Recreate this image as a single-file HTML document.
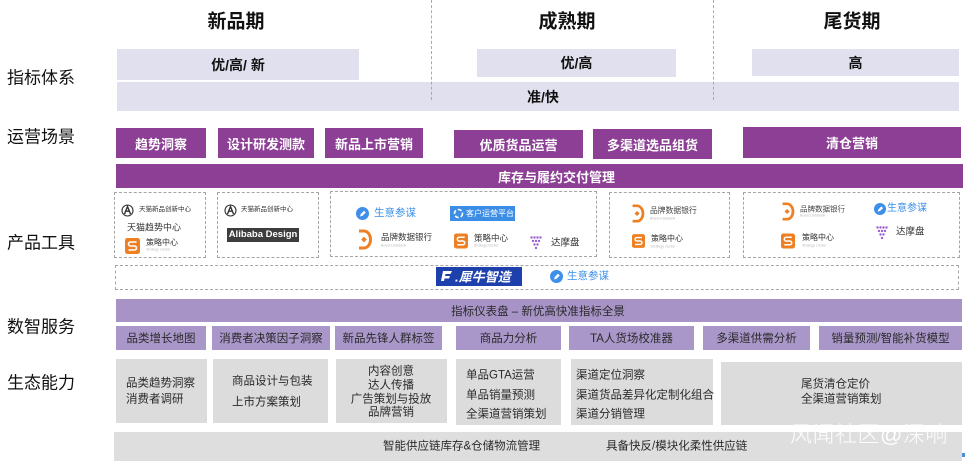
<!DOCTYPE html>
<html>
<head>
<meta charset="utf-8">
<style>
*{margin:0;padding:0;box-sizing:border-box;}
html,body{width:966px;height:462px;background:#fff;overflow:hidden;}
body{position:relative;font-family:"Liberation Sans","Noto Sans CJK SC",sans-serif;color:#222;}
.a{position:absolute;}
.t{position:absolute;white-space:nowrap;transform:translateY(-50%);line-height:1;}
.hd{font-size:19px;font-weight:bold;color:#111;transform:translate(-50%,-50%);}
.lb{font-size:17px;color:#111;left:7px;}
.lav{position:absolute;background:#e1e0ee;display:flex;align-items:center;justify-content:center;font-weight:bold;font-size:14px;color:#111;}
.pp{position:absolute;background:#8c3f95;display:flex;align-items:center;justify-content:center;font-weight:bold;font-size:13px;color:#fff;}
.db{position:absolute;border:1.5px dashed #a5a5a5;}
.sv{position:absolute;background:#aa97ca;display:flex;align-items:center;justify-content:center;font-size:11.5px;color:#2a2a2a;}
.gy{position:absolute;background:#dcdcdc;font-size:11.5px;color:#2a2a2a;}
.vd{position:absolute;top:0;width:0;height:100px;border-left:1.2px dashed #aaa;}
.sub{font-size:3.5px;color:#bbb;}
.blue{color:#3d8fea;}
</style>
</head>
<body>

<!-- headers -->
<div class="t hd" style="left:236px;top:22px;">新品期</div>
<div class="t hd" style="left:567px;top:22px;">成熟期</div>
<div class="t hd" style="left:852px;top:22px;">尾货期</div>

<!-- left labels -->
<div class="t lb" style="top:78px;">指标体系</div>
<div class="t lb" style="top:137px;">运营场景</div>
<div class="t lb" style="top:243px;">产品工具</div>
<div class="t lb" style="top:327px;">数智服务</div>
<div class="t lb" style="top:383px;">生态能力</div>

<!-- indicator row -->
<div class="lav" style="left:117px;top:49px;width:242px;height:31px;">优/高/ 新</div>
<div class="lav" style="left:477px;top:49px;width:199px;height:28px;">优/高</div>
<div class="lav" style="left:752px;top:49px;width:207px;height:27px;">高</div>
<div class="lav" style="left:117px;top:82px;width:842px;height:29px;justify-content:flex-start;padding-left:410px;">准/快</div>

<div class="vd" style="left:431px;"></div>
<div class="vd" style="left:713px;"></div>

<!-- operations -->
<div class="pp" style="left:116px;top:128px;width:90px;height:30px;">趋势洞察</div>
<div class="pp" style="left:218px;top:128px;width:96px;height:30px;">设计研发测款</div>
<div class="pp" style="left:325px;top:128px;width:98px;height:30px;">新品上市营销</div>
<div class="pp" style="left:454px;top:130px;width:129px;height:28px;">优质货品运营</div>
<div class="pp" style="left:593px;top:129px;width:119px;height:30px;">多渠道选品组货</div>
<div class="pp" style="left:743px;top:127px;width:218px;height:31px;">清仓营销</div>
<div class="pp" style="left:116px;top:164px;width:847px;height:24px;justify-content:flex-start;padding-left:382px;">库存与履约交付管理</div>

<!-- tools dashed boxes -->
<div class="db" style="left:114px;top:192px;width:92px;height:66px;"></div>
<div class="db" style="left:217px;top:192px;width:102px;height:66px;"></div>
<div class="db" style="left:330px;top:191px;width:267px;height:66px;"></div>
<div class="db" style="left:609px;top:192px;width:121px;height:66px;"></div>
<div class="db" style="left:743px;top:192px;width:217px;height:66px;"></div>
<div class="db" style="left:115px;top:265px;width:844px;height:25px;"></div>

<!-- T1 -->
<svg class="a" style="left:121px;top:204px;" width="13" height="13" viewBox="0 0 13 13"><circle cx="6.5" cy="6.5" r="5.5" fill="none" stroke="#333" stroke-width="1.1"/><path d="M3.5 10L6.5 2.5 9.5 10M4.8 7.2h3.4" stroke="#333" stroke-width="1.4" fill="none"/></svg>
<div class="t" style="left:139px;top:210px;font-size:6.5px;color:#333;">天猫新品创新中心</div>
<div class="t" style="left:127px;top:228px;font-size:9px;color:#333;">天猫趋势中心</div>
<svg class="a" style="left:125px;top:238px;" width="15" height="16" viewBox="0 0 15 16"><rect width="15" height="16" rx="2.5" fill="#ee7f22"/><path d="M11.5 4H5.5a2 2 0 0 0 0 4h4a2 2 0 0 1 0 4H3.5" stroke="#fff" stroke-width="1.6" fill="none"/></svg>
<div class="t" style="left:146px;top:243px;font-size:8px;color:#333;">策略中心</div>
<div class="t sub" style="left:146px;top:250px;">Strategy Center</div>

<!-- T2 -->
<svg class="a" style="left:224px;top:204px;" width="13" height="13" viewBox="0 0 13 13"><circle cx="6.5" cy="6.5" r="5.5" fill="none" stroke="#333" stroke-width="1.1"/><path d="M3.5 10L6.5 2.5 9.5 10M4.8 7.2h3.4" stroke="#333" stroke-width="1.4" fill="none"/></svg>
<div class="t" style="left:241px;top:210px;font-size:6.5px;color:#333;">天猫新品创新中心</div>
<div class="a" style="left:227px;top:228px;width:72px;height:14px;background:#3d3d3d;color:#fff;font-size:9.5px;font-weight:bold;text-align:center;line-height:14px;white-space:nowrap;overflow:hidden;">Alibaba Design</div>

<!-- T3 -->
<svg class="a" style="left:356px;top:207px;" width="13" height="13" viewBox="0 0 13 13"><circle cx="6.5" cy="6.5" r="6.5" fill="#3d8fea"/><path d="M4 9.5l.8-2.6 3.2-3.2 1.8 1.8-3.2 3.2z" fill="#fff"/></svg>
<div class="t blue" style="left:374px;top:213px;font-size:10.5px;">生意参谋</div>
<div class="a" style="left:450px;top:206px;width:65px;height:15px;background:#3b8de6;"></div>
<svg class="a" style="left:453px;top:208px;" width="11" height="11" viewBox="0 0 11 11"><circle cx="5.5" cy="5.5" r="4" fill="none" stroke="#fff" stroke-width="1.6" stroke-dasharray="4 2"/></svg>
<div class="t" style="left:466px;top:213.5px;font-size:8px;color:#fff;">客户运营平台</div>
<svg class="a" style="left:358px;top:229px;" width="14" height="21" viewBox="0 0 14 21"><path d="M1 2h5a6.5 8.5 0 0 1 0 17H1" fill="none" stroke="#ee7f22" stroke-width="3"/><rect x="4" y="8.5" width="4" height="4" transform="rotate(45 6 10.5)" fill="#ee7f22"/></svg>
<div class="t" style="left:381px;top:237px;font-size:8.5px;color:#333;">品牌数据银行</div>
<div class="t sub" style="left:381px;top:246px;">Brand Databank</div>
<svg class="a" style="left:454px;top:232px;" width="14" height="18" viewBox="0 0 15 16"><rect width="15" height="16" rx="2.5" fill="#ee7f22"/><path d="M11.5 4H5.5a2 2 0 0 0 0 4h4a2 2 0 0 1 0 4H3.5" stroke="#fff" stroke-width="1.6" fill="none"/></svg>
<div class="t" style="left:474px;top:238px;font-size:8.5px;color:#333;">策略中心</div>
<div class="t sub" style="left:474px;top:246px;">Strategy Center</div>
<svg class="a" style="left:530px;top:236px;" width="13" height="14" viewBox="0 0 13 14"><g fill="#9a5fd6"><circle cx="1.5" cy="1.5" r="1.2"/><circle cx="4.5" cy="1.5" r="1.2"/><circle cx="7.5" cy="1.5" r="1.2"/><circle cx="10.5" cy="1.5" r="1.2"/><circle cx="3" cy="5" r="1.2"/><circle cx="6" cy="5" r="1.2"/><circle cx="9" cy="5" r="1.2"/><circle cx="4.5" cy="8.5" r="1.2"/><circle cx="7.5" cy="8.5" r="1.2"/><circle cx="6" cy="12" r="1.2"/></g></svg>
<div class="t" style="left:551px;top:243px;font-size:9.5px;color:#333;">达摩盘</div>

<!-- T4 -->
<svg class="a" style="left:631px;top:204px;" width="14" height="19" viewBox="0 0 14 21"><path d="M1 2h5a6.5 8.5 0 0 1 0 17H1" fill="none" stroke="#ee7f22" stroke-width="3"/><rect x="4" y="8.5" width="4" height="4" transform="rotate(45 6 10.5)" fill="#ee7f22"/></svg>
<div class="t" style="left:650px;top:211px;font-size:7.8px;color:#444;">品牌数据银行</div>
<div class="t sub" style="left:650px;top:219px;">Brand Databank</div>
<svg class="a" style="left:632px;top:232px;" width="13" height="18" viewBox="0 0 15 16"><rect width="15" height="16" rx="2.5" fill="#ee7f22"/><path d="M11.5 4H5.5a2 2 0 0 0 0 4h4a2 2 0 0 1 0 4H3.5" stroke="#fff" stroke-width="1.6" fill="none"/></svg>
<div class="t" style="left:651px;top:239px;font-size:8px;color:#333;">策略中心</div>
<div class="t sub" style="left:651px;top:247px;">Strategy Center</div>

<!-- T5 -->
<svg class="a" style="left:781px;top:202px;" width="14" height="19" viewBox="0 0 14 21"><path d="M1 2h5a6.5 8.5 0 0 1 0 17H1" fill="none" stroke="#ee7f22" stroke-width="3"/><rect x="4" y="8.5" width="4" height="4" transform="rotate(45 6 10.5)" fill="#ee7f22"/></svg>
<div class="t" style="left:800px;top:209px;font-size:7.5px;color:#444;">品牌数据银行</div>
<div class="t sub" style="left:800px;top:216px;">Brand Databank</div>
<svg class="a" style="left:874px;top:203px;" width="12" height="12" viewBox="0 0 13 13"><circle cx="6.5" cy="6.5" r="6.5" fill="#3d8fea"/><path d="M4 9.5l.8-2.6 3.2-3.2 1.8 1.8-3.2 3.2z" fill="#fff"/></svg>
<div class="t blue" style="left:887px;top:209px;font-size:10px;">生意参谋</div>
<svg class="a" style="left:781px;top:232px;" width="14" height="18" viewBox="0 0 15 16"><rect width="15" height="16" rx="2.5" fill="#ee7f22"/><path d="M11.5 4H5.5a2 2 0 0 0 0 4h4a2 2 0 0 1 0 4H3.5" stroke="#fff" stroke-width="1.6" fill="none"/></svg>
<div class="t" style="left:802px;top:238px;font-size:8px;color:#333;">策略中心</div>
<div class="t sub" style="left:802px;top:246px;">Strategy Center</div>
<svg class="a" style="left:876px;top:226px;" width="13" height="14" viewBox="0 0 13 14"><g fill="#9a5fd6"><circle cx="1.5" cy="1.5" r="1.2"/><circle cx="4.5" cy="1.5" r="1.2"/><circle cx="7.5" cy="1.5" r="1.2"/><circle cx="10.5" cy="1.5" r="1.2"/><circle cx="3" cy="5" r="1.2"/><circle cx="6" cy="5" r="1.2"/><circle cx="9" cy="5" r="1.2"/><circle cx="4.5" cy="8.5" r="1.2"/><circle cx="7.5" cy="8.5" r="1.2"/><circle cx="6" cy="12" r="1.2"/></g></svg>
<div class="t" style="left:896px;top:232px;font-size:9.5px;color:#333;">达摩盘</div>

<!-- wide tools row -->
<div class="a" style="left:436px;top:267px;width:86px;height:19px;background:#1d40ad;"></div>
<svg class="a" style="left:440px;top:270px;" width="13" height="13" viewBox="0 0 13 13"><path d="M3 1h9l-1.5 3H5.5L5 6h5l-1 2.5H4.5L4 11H1z" fill="#fff"/></svg>
<div class="t" style="left:455px;top:276.5px;font-size:13px;font-weight:bold;font-style:italic;color:#fff;">.犀牛智造</div>
<svg class="a" style="left:550px;top:270px;" width="13" height="13" viewBox="0 0 13 13"><circle cx="6.5" cy="6.5" r="6.5" fill="#3d8fea"/><path d="M4 9.5l.8-2.6 3.2-3.2 1.8 1.8-3.2 3.2z" fill="#fff"/></svg>
<div class="t blue" style="left:567px;top:276px;font-size:10.5px;">生意参谋</div>

<!-- services -->
<div class="sv" style="left:116px;top:299px;width:846px;height:23px;background:#a893c7;padding-right:2px;">指标仪表盘 – 新优高快准指标全景</div>
<div class="sv" style="left:116px;top:326px;width:90px;height:24px;">品类增长地图</div>
<div class="sv" style="left:212px;top:326px;width:118px;height:24px;">消费者决策因子洞察</div>
<div class="sv" style="left:335px;top:326px;width:107px;height:24px;">新品先锋人群标签</div>
<div class="sv" style="left:456px;top:326px;width:105px;height:24px;">商品力分析</div>
<div class="sv" style="left:569px;top:326px;width:125px;height:24px;">TA人货场校准器</div>
<div class="sv" style="left:703px;top:326px;width:107px;height:24px;">多渠道供需分析</div>
<div class="sv" style="left:819px;top:326px;width:143px;height:24px;">销量预测/智能补货模型</div>

<!-- eco -->
<div class="gy" style="left:116px;top:359px;width:91px;height:64px;"></div>
<div class="t" style="left:126px;top:384px;font-size:11.5px;color:#2a2a2a;">品类趋势洞察</div>
<div class="t" style="left:126px;top:400px;font-size:11.5px;color:#2a2a2a;">消费者调研</div>

<div class="gy" style="left:213px;top:359px;width:115px;height:64px;"></div>
<div class="t" style="left:232px;top:382px;font-size:11.5px;color:#2a2a2a;">商品设计与包装</div>
<div class="t" style="left:232px;top:403px;font-size:11.5px;color:#2a2a2a;">上市方案策划</div>

<div class="gy" style="left:336px;top:359px;width:111px;height:64px;"></div>
<div class="t" style="left:391px;top:372px;font-size:11.5px;color:#2a2a2a;transform:translate(-50%,-50%);">内容创意</div>
<div class="t" style="left:391px;top:386px;font-size:11.5px;color:#2a2a2a;transform:translate(-50%,-50%);">达人传播</div>
<div class="t" style="left:391px;top:400px;font-size:11.5px;color:#2a2a2a;transform:translate(-50%,-50%);">广告策划与投放</div>
<div class="t" style="left:391px;top:413px;font-size:11.5px;color:#2a2a2a;transform:translate(-50%,-50%);">品牌营销</div>

<div class="gy" style="left:456px;top:359px;width:105px;height:66px;"></div>
<div class="t" style="left:466px;top:376px;font-size:11.5px;color:#2a2a2a;">单品GTA运营</div>
<div class="t" style="left:466px;top:396px;font-size:11.5px;color:#2a2a2a;">单品销量预测</div>
<div class="t" style="left:466px;top:415px;font-size:11.5px;color:#2a2a2a;">全渠道营销策划</div>

<div class="gy" style="left:571px;top:359px;width:142px;height:66px;"></div>
<div class="t" style="left:576px;top:376px;font-size:11.5px;color:#2a2a2a;">渠道定位洞察</div>
<div class="t" style="left:576px;top:396px;font-size:11.5px;color:#2a2a2a;">渠道货品差异化定制化组合</div>
<div class="t" style="left:576px;top:415px;font-size:11.5px;color:#2a2a2a;">渠道分销管理</div>

<div class="gy" style="left:721px;top:362px;width:241px;height:63px;"></div>
<div class="t" style="left:801px;top:385px;font-size:11.5px;color:#2a2a2a;">尾货清仓定价</div>
<div class="t" style="left:801px;top:400px;font-size:11.5px;color:#2a2a2a;">全渠道营销策划</div>

<!-- bottom bar -->
<div class="gy" style="left:114px;top:432px;width:848px;height:29px;background:#dedede;"></div>
<div class="t" style="left:383px;top:447px;font-size:11.5px;color:#2a2a2a;">智能供应链库存&amp;仓储物流管理</div>
<div class="t" style="left:606px;top:447px;font-size:11.5px;color:#2a2a2a;">具备快反/模块化柔性供应链</div>

<!-- watermark -->
<div class="t" style="left:790px;top:435px;font-size:22px;color:rgba(255,255,255,0.95);font-weight:300;letter-spacing:0.5px;">风闻社区@深响</div>
<div class="a" style="left:962px;top:453px;width:3px;height:4px;background:#4a90d9;"></div>

</body>
</html>
